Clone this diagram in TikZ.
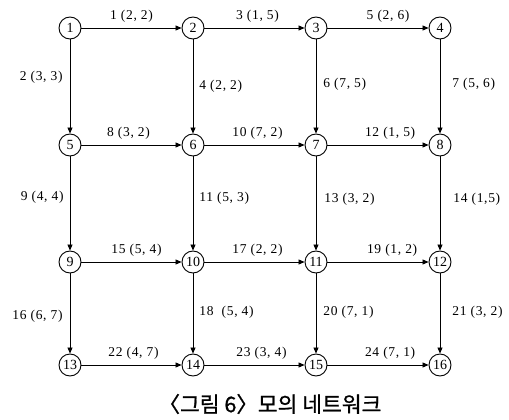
\documentclass[tikz,border=0pt]{standalone}
\usepackage{fontspec}
\setmainfont{Liberation Serif}
\newfontfamily\krfont[FakeBold=1]{Noto Sans CJK KR}
\usetikzlibrary{arrows.meta}
\begin{document}
\begin{tikzpicture}[x=1pt,y=-1pt,
  vtx/.style={circle,draw,line width=0.9pt,minimum size=22pt,inner sep=0pt,font=\fontsize{14}{14}\selectfont},
  edge/.style={line width=0.8pt,-{Triangle[length=6pt,width=5pt]}},
  lbl/.style={font=\fontsize{13.5}{13.5}\selectfont\addfontfeature{LetterSpace=5},inner sep=0pt}]
\useasboundingbox (0,0) rectangle (509,420);
% nodes
\foreach \n/\x/\y in {1/70/28,2/193/28,3/316/28,4/440/28,
                      5/70/145,6/193/145,7/316/145,8/440/145,
                      9/70/262,10/193/262,11/316/262,12/440/262,
                      13/70/365,14/193/365,15/316/365,16/440/365}
  \node[vtx] (v\n) at (\x,\y) {\n};
% horizontal edges
\draw[edge] (v1) -- node[lbl,above=5pt,pos=0.5]{1 (2, 2)} (v2);
\draw[edge] (v2) -- node[lbl,above=5pt,pos=0.53]{3 (1, 5)} (v3);
\draw[edge] (v3) -- node[lbl,above=5pt,pos=0.6]{5 (2, 6)} (v4);
\draw[edge] (v5) -- node[lbl,above=5pt,pos=0.47]{8 (3, 2)} (v6);
\draw[edge] (v6) -- node[lbl,above=5pt,pos=0.53]{10 (7, 2)} (v7);
\draw[edge] (v7) -- node[lbl,above=5pt,pos=0.62]{12 (1, 5)} (v8);
\draw[edge] (v9) -- node[lbl,above=5pt,pos=0.55]{15 (5, 4)} (v10);
\draw[edge] (v10) -- node[lbl,above=5pt,pos=0.53]{17 (2, 2)} (v11);
\draw[edge] (v11) -- node[lbl,above=5pt,pos=0.64]{19 (1, 2)} (v12);
\draw[edge] (v13) -- node[lbl,above=5pt,pos=0.52]{22 (4, 7)} (v14);
\draw[edge] (v14) -- node[lbl,above=5pt,pos=0.57]{23 (3, 4)} (v15);
\draw[edge] (v15) -- node[lbl,above=5pt,pos=0.62]{24 (7, 1)} (v16);
% vertical edges
\draw[edge] (v1) -- node[lbl,left=7pt,pos=0.4]{2 (3, 3)} (v5);
\draw[edge] (v2) -- node[lbl,right=6pt,pos=0.5]{4 (2, 2)} (v6);
\draw[edge] (v3) -- node[lbl,right=7pt,pos=0.48]{6 (7, 5)} (v7);
\draw[edge] (v4) -- node[lbl,right=12pt,pos=0.48]{7 (5, 6)} (v8);
\draw[edge] (v5) -- node[lbl,left=6pt,pos=0.43]{9 (4, 4)} (v9);
\draw[edge] (v6) -- node[lbl,right=6pt,pos=0.44]{11 (5, 3)} (v10);
\draw[edge] (v7) -- node[lbl,right=8pt,pos=0.46]{13 (3, 2)} (v11);
\draw[edge] (v8) -- node[lbl,right=13pt,pos=0.46]{14 (1,5)} (v12);
\draw[edge] (v9) -- node[lbl,left=7pt,pos=0.54]{16 (6, 7)} (v13);
\draw[edge] (v10) -- node[lbl,right=6pt,pos=0.48]{18 \ (5, 4)} (v14);
\draw[edge] (v11) -- node[lbl,right=7pt,pos=0.49]{20 (7, 1)} (v15);
\draw[edge] (v12) -- node[lbl,right=12pt,pos=0.49]{21 (3, 2)} (v16);
% caption
\node[font=\krfont\fontsize{21.5}{21.5}\selectfont,inner sep=0pt] (cap) at (270,404) {〈그림 6〉모의 네트워크};
\end{tikzpicture}
\end{document}
